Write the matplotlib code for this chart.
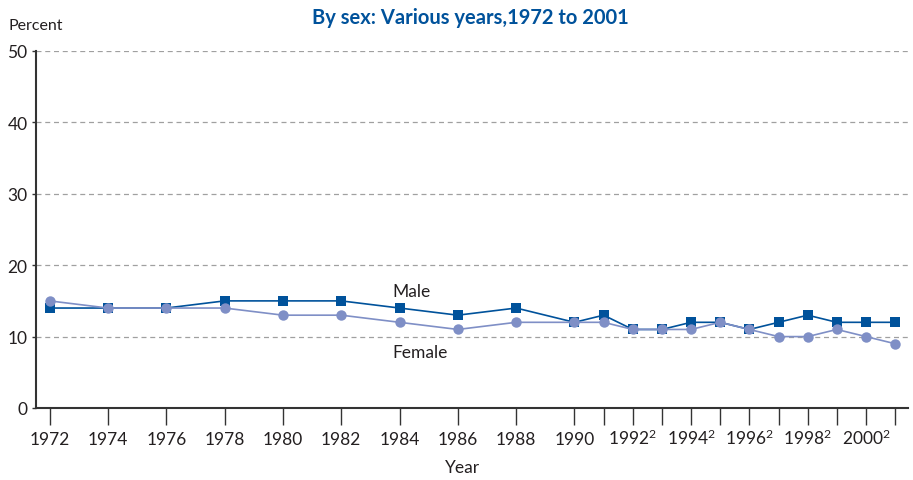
import matplotlib
matplotlib.use('Agg')
import matplotlib.pyplot as plt

years = [1972, 1974, 1976, 1978, 1980, 1982, 1984, 1986, 1988, 1990,
         1991, 1992, 1993, 1994, 1995, 1996, 1997, 1998, 1999, 2000, 2001]
male = [14, 14, 14, 15, 15, 15, 14, 13, 14, 12,
        13, 11, 11, 12, 12, 11, 12, 13, 12, 12, 12]
female = [15, 14, 14, 14, 13, 13, 12, 11, 12, 12,
          12, 11, 11, 11, 12, 11, 10, 10, 11, 10, 9]

tick_years = [1972, 1974, 1976, 1978, 1980, 1982, 1984, 1986, 1988, 1990,
              1991, 1992, 1993, 1994, 1995, 1996, 1997, 1998, 1999, 2000, 2001]
tick_labels = ['1972', '1974', '1976', '1978', '1980', '1982', '1984', '1986',
               '1988', '1990', '', '1992$^2$', '', '1994$^2$', '', '1996$^2$',
               '', '1998$^2$', '', '2000$^2$', '']
y_ticks = [0, 10, 20, 30, 40, 50]

MALE_C = '#00529b'
FEMALE_C = '#7f8fc6'
TEXT_C = '#231f20'

plt.rcParams['font.family'] = ['Lato', 'DejaVu Sans']
plt.rcParams['mathtext.fontset'] = 'custom'
plt.rcParams['mathtext.rm'] = 'Lato'
plt.rcParams['mathtext.default'] = 'regular'

fig = plt.figure(figsize=(9.13, 4.81), dpi=100)
ax = fig.add_axes([0.0394, 0.1497, 0.9551, 0.7422])

# dashed reference lines every 10 percent
for y in y_ticks[1:]:
    ax.axhline(y, color='#a0a0a0', lw=0.9, ls=(0, (4, 3)), zorder=1)

ax.plot(years, female, color=FEMALE_C, lw=1.2, marker='o', ms=7.5,
        markeredgewidth=0, zorder=3)
ax.plot(years, male, color=MALE_C, lw=1.2, marker='s', ms=7,
        markeredgewidth=0, zorder=2)

ax.set_xlim(1971.53, 2001.44)
ax.set_ylim(0, 50)
ax.set_xticks(tick_years)
ax.set_xticklabels(tick_labels, fontsize=12.5, color=TEXT_C)
ax.set_yticks(y_ticks)
ax.set_yticklabels([str(v) for v in y_ticks], fontsize=12.5, color=TEXT_C)
# baseline alignment keeps the superscripted years level with the rest
ax.tick_params(axis='x', length=12, width=1, color='#333333', pad=14)
ax.tick_params(axis='y', length=3, width=1, color='#333333', pad=3)
for lbl in ax.get_xticklabels():
    lbl.set_va('baseline')

for side in ['top', 'right']:
    ax.spines[side].set_visible(False)
for side in ['left', 'bottom']:
    ax.spines[side].set_linewidth(1.5)
    ax.spines[side].set_color('#333333')

ax.text(1984.4, 16.4, 'Male', fontsize=12.5, color=TEXT_C, ha='center', va='center')
ax.text(1984.7, 7.9, 'Female', fontsize=12.5, color=TEXT_C, ha='center', va='center')

fig.text(0.009, 0.945, 'Percent', fontsize=11.5, color=TEXT_C, ha='left', va='center')
fig.text(0.515, 0.963, 'By sex: Various years,1972 to 2001', fontsize=14.5,
         color=MALE_C, fontweight='bold', ha='center', va='center')
fig.text(0.507, 0.027, 'Year', fontsize=12.5, color=TEXT_C, ha='center', va='center')

fig.savefig('out.png', dpi=100)
